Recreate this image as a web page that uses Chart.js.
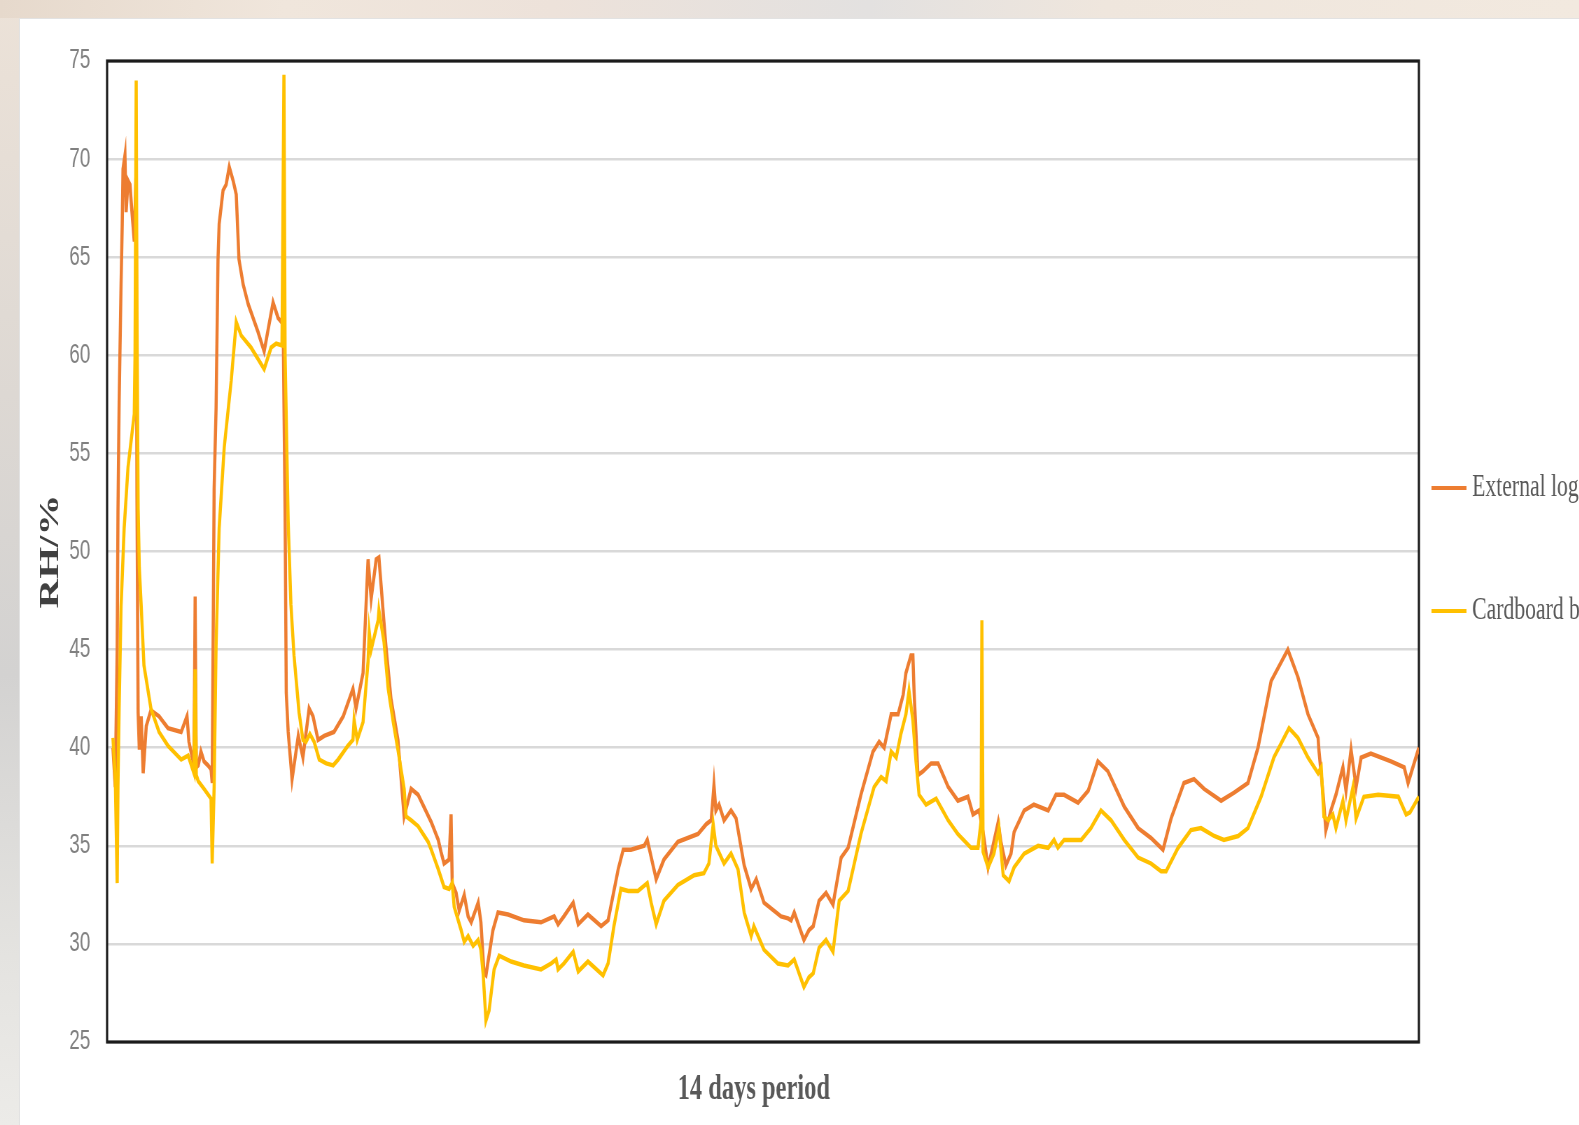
<!DOCTYPE html>
<html>
<head>
<meta charset="utf-8">
<script src="https://cdn.jsdelivr.net/npm/chart.js@4.4.1/dist/chart.umd.min.js"></script>
<style>
  html, body { margin: 0; padding: 0; width: 1579px; height: 1125px; overflow: hidden; }
  body {
    position: relative;
    background: linear-gradient(180deg, #ece2d8 0%, #ddd8d3 35%, #d3d2d1 60%, #e4e3e0 85%, #ecebe8 100%);
  }
  #topstrip {
    position: absolute; left: 0; top: 0; width: 1579px; height: 18px;
    background: linear-gradient(90deg, #e6d9cc 0%, #f0e6dc 18%, #ede2da 35%, #e3e1e0 55%, #efe6dd 70%, #f2e9df 100%);
  }
  #panel {
    position: absolute; left: 19px; top: 18px; right: 0; bottom: 0;
    background: #fff; border-left: 1px solid #e2e2e2; border-top: 1px solid #e2e2e2;
  }
  /* the source picture is squeezed sideways, so the whole canvas is too */
  #chart { position: absolute; left: 0; top: 0; transform: scaleX(0.7); transform-origin: 0 0; }
</style>
</head>
<body>
<div id="topstrip"></div>
<div id="panel"></div>
<canvas id="chart" width="2256" height="1125"></canvas>
<script>
// time in hours from the start of the run, RH in %
const extHours = [
  1.5, 2.1, 2.6, 2.8, 3.1, 3.6, 3.9, 4.1, 4.6, 4.9,
  5.4, 5.9, 6.4, 7.0, 7.5, 7.7, 8.0, 8.3, 8.8, 9.3,
  10.1, 11.3, 13.4, 15.7, 19.1, 20.6, 21.1, 22.4, 22.7, 23.0,
  23.5, 24.2, 25.0, 26.0, 26.8, 27.1, 27.6, 28.1, 28.6, 28.9,
  29.9, 30.7, 31.5, 32.5, 33.3, 34.0, 35.1, 36.4, 38.9, 40.5,
  42.8, 44.1, 45.4, 45.9, 46.2, 46.7, 47.7, 49.3, 50.5, 52.1,
  53.1, 54.4, 56.0, 58.5, 60.9, 63.4, 64.2, 66.0, 67.3, 68.1,
  69.4, 70.1, 71.4, 71.9, 73.2, 75.0, 76.6, 78.4, 80.2, 83.6,
  85.4, 86.1, 86.9, 88.2, 88.7, 89.0, 90.0, 90.8, 92.1, 93.1,
  93.9, 95.7, 96.4, 97.2, 97.7, 99.5, 100.8, 103.4, 107.5, 111.9,
  115.3, 116.3, 117.8, 120.2, 121.5, 124.0, 127.4, 129.2, 131.8, 133.1,
  135.1, 138.5, 139.3, 141.6, 143.6, 147.2, 152.4, 154.5, 155.8, 156.5,
  157.0, 157.8, 159.1, 160.9, 162.2, 164.3, 166.1, 167.4, 169.4, 173.8,
  175.6, 176.4, 177.2, 179.7, 181.0, 182.1, 183.6, 185.4, 187.2, 189.3,
  191.1, 194.4, 197.5, 199.1, 200.4, 202.2, 204.0, 205.3, 206.0, 207.3,
  207.8, 208.1, 209.1, 210.4, 212.5, 214.3, 216.9, 219.4, 222.0, 223.3,
  224.9, 225.9, 227.2, 229.8, 230.5, 231.8, 233.1, 233.9, 236.5, 239.0,
  242.7, 244.7, 246.8, 250.4, 253.0, 255.5, 258.1, 262.3, 265.9, 269.2,
  272.3, 274.4, 277.7, 280.3, 282.9, 287.3, 290.6, 294.2, 296.8, 300.2,
  304.5, 307.1, 309.7, 312.3, 312.5, 313.6, 314.3, 315.6, 316.9, 318.7,
  319.5, 320.8, 322.1, 323.4, 325.9, 331.1, 334.5, 335.5, 338.3
];
const extRH = [
  40.0, 38.0, 45.0, 52.0, 57.6, 63.6, 66.7, 69.5, 70.2, 67.3,
  68.9, 68.7, 67.3, 65.8, 69.5, 52.8, 41.8, 39.9, 41.6, 38.7,
  41.1, 41.9, 41.6, 41.0, 40.8, 41.6, 40.3, 39.1, 47.7, 39.0,
  39.1, 39.8, 39.3, 39.1, 38.9, 38.2, 53.2, 57.3, 64.9, 66.7,
  68.4, 68.7, 69.6, 68.9, 68.2, 64.9, 63.6, 62.6, 61.2, 60.2,
  62.7, 61.9, 61.6, 52.0, 42.8, 40.8, 38.4, 40.6, 39.5, 42.0,
  41.6, 40.4, 40.6, 40.8, 41.6, 43.0, 42.0, 43.8, 49.6, 47.6,
  49.6, 49.7, 46.4, 45.2, 42.5, 40.4, 36.5, 37.9, 37.6, 36.2,
  35.3, 34.7, 34.1, 34.3, 36.6, 33.1, 32.6, 31.7, 32.5, 31.4,
  31.1, 32.1, 31.1, 28.5, 28.4, 30.7, 31.6, 31.5, 31.2, 31.1,
  31.4, 31.0, 31.4, 32.1, 31.0, 31.5, 30.9, 31.2, 33.8, 34.8,
  34.8, 35.0, 35.3, 33.3, 34.3, 35.2, 35.6, 36.1, 36.3, 38.1,
  36.8, 37.1, 36.3, 36.8, 36.4, 34.0, 32.8, 33.3, 32.1, 31.4,
  31.3, 31.2, 31.6, 30.2, 30.7, 30.9, 32.2, 32.6, 32.0, 34.4,
  34.9, 37.6, 39.8, 40.3, 40.0, 41.7, 41.7, 42.7, 43.8, 44.7,
  44.7, 42.9, 38.6, 38.8, 39.2, 39.2, 38.0, 37.3, 37.5, 36.6,
  36.8, 35.7, 33.9, 36.2, 35.2, 34.0, 34.6, 35.7, 36.8, 37.1,
  36.8, 37.6, 37.6, 37.2, 37.8, 39.3, 38.8, 37.0, 35.9, 35.4,
  34.8, 36.4, 38.2, 38.4, 37.9, 37.3, 37.7, 38.2, 40.0, 43.4,
  45.0, 43.6, 41.7, 40.5, 39.9, 37.6, 35.8, 36.8, 37.6, 39.0,
  37.8, 39.9, 38.0, 39.5, 39.7, 39.3, 39.0, 38.2, 40.0
];

const boxHours = [
  1.5, 2.1, 2.6, 2.8, 3.1, 3.6, 4.4, 5.4, 6.4, 7.0,
  7.2, 7.5, 7.7, 8.0, 8.3, 8.8, 9.5, 11.3, 13.4, 15.7,
  19.1, 20.9, 22.4, 22.7, 23.0, 23.5, 25.0, 26.8, 27.1, 27.6,
  28.1, 28.9, 30.2, 32.0, 33.3, 34.6, 37.1, 40.5, 42.3, 43.6,
  45.1, 45.6, 45.9, 46.7, 47.4, 48.2, 49.5, 50.5, 51.3, 52.3,
  53.4, 54.7, 56.5, 58.3, 59.6, 62.1, 63.4, 63.7, 64.5, 66.0,
  67.3, 67.6, 68.1, 69.9, 70.1, 71.4, 72.5, 73.8, 75.0, 76.6,
  77.1, 78.4, 80.2, 82.8, 83.6, 85.4, 86.9, 88.2, 89.0, 89.5,
  91.3, 92.1, 93.1, 94.4, 95.7, 96.4, 97.0, 97.7, 98.5, 99.8,
  101.1, 104.2, 107.5, 111.9, 114.5, 115.8, 116.3, 117.8, 120.2, 121.5,
  124.0, 127.9, 129.2, 130.7, 132.5, 134.4, 136.9, 139.3, 140.3, 141.6,
  143.6, 147.2, 151.4, 153.9, 155.2, 156.3, 157.0, 159.1, 160.9, 162.7,
  164.3, 166.1, 166.8, 169.4, 173.0, 175.6, 177.2, 179.7, 181.0, 182.1,
  183.6, 185.4, 187.2, 188.8, 191.1, 194.4, 197.8, 199.6, 200.9, 202.2,
  203.5, 204.7, 206.0, 206.8, 207.8, 208.6, 209.4, 211.2, 213.8, 216.9,
  219.4, 222.8, 224.6, 225.4, 225.6, 225.9, 227.2, 228.7, 230.0, 231.1,
  232.6, 233.9, 236.5, 240.1, 242.7, 244.2, 245.2, 246.8, 251.2, 253.7,
  256.3, 258.9, 262.3, 265.9, 269.2, 271.8, 273.1, 276.2, 279.5, 282.1,
  285.5, 288.0, 291.7, 294.2, 297.6, 300.9, 304.8, 307.1, 309.7, 312.3,
  313.1, 313.8, 314.9, 316.1, 316.9, 318.7, 319.5, 321.3, 322.1, 324.1,
  327.8, 333.0, 335.0, 336.0, 338.3
];
const boxRH = [
  40.5, 38.5, 33.1, 38.0, 42.0, 47.2, 51.2, 54.3, 56.0, 57.0,
  60.0, 74.0, 62.0, 52.2, 49.2, 47.2, 44.2, 42.0, 40.8, 40.1,
  39.4, 39.6, 38.7, 44.0, 38.6, 38.3, 37.9, 37.4, 34.1, 38.0,
  45.2, 51.2, 55.3, 58.7, 61.7, 61.0, 60.4, 59.3, 60.4, 60.6,
  60.5, 74.3, 60.0, 51.5, 47.3, 44.7, 41.8, 40.4, 40.3, 40.7,
  40.3, 39.4, 39.2, 39.1, 39.4, 40.1, 40.4, 41.4, 40.4, 41.3,
  44.4, 45.9, 45.0, 46.5, 47.0, 45.4, 43.0, 41.3, 39.9, 37.9,
  36.5, 36.3, 36.0, 35.2, 34.8, 33.8, 32.9, 32.8, 33.1, 31.9,
  30.7, 30.1, 30.4, 29.9, 30.2, 29.7, 28.4, 26.1, 26.6, 28.7,
  29.4, 29.1, 28.9, 28.7, 29.0, 29.2, 28.7, 29.0, 29.6, 28.6,
  29.1, 28.4, 29.0, 30.9, 32.8, 32.7, 32.7, 33.1, 32.1, 31.0,
  32.2, 33.0, 33.5, 33.6, 34.1, 36.1, 35.0, 34.1, 34.6, 33.8,
  31.6, 30.4, 30.9, 29.7, 29.0, 28.9, 29.2, 27.8, 28.3, 28.5,
  29.8, 30.2, 29.6, 32.2, 32.7, 35.6, 38.0, 38.5, 38.3, 39.8,
  39.5, 40.7, 41.7, 42.9, 41.4, 39.3, 37.6, 37.1, 37.4, 36.3,
  35.6, 34.9, 34.9, 36.3, 46.5, 34.7, 33.9, 34.6, 35.9, 33.5,
  33.2, 33.9, 34.6, 35.0, 34.9, 35.3, 34.9, 35.3, 35.3, 35.9,
  36.8, 36.3, 35.3, 34.4, 34.1, 33.7, 33.7, 34.9, 35.8, 35.9,
  35.5, 35.3, 35.5, 35.9, 37.5, 39.5, 41.0, 40.5, 39.5, 38.7,
  39.0, 36.5, 36.3, 36.6, 35.9, 37.3, 36.3, 38.0, 36.4, 37.5,
  37.6, 37.5, 36.6, 36.7, 37.5
];

const seriesNames = ['External logger', 'Cardboard box'];
const seriesColors = ['#ED7D31', '#FFC000'];
const rhTicks = [25, 30, 35, 40, 45, 50, 55, 60, 65, 70, 75];
const lastHour = 338.3;

function toPoints(xs, ys) {
  return xs.map((x, i) => ({ x: x, y: ys[i] }));
}

// plot frame + a legend hanging off the right edge of the picture
const frameAndLegend = {
  id: 'frameAndLegend',
  beforeDatasetsDraw(chart) {
    const { ctx, chartArea: a } = chart;
    ctx.save();
    ctx.strokeStyle = '#1b1b1b';
    ctx.lineWidth = 3.2;
    ctx.strokeRect(a.left, a.top, a.right - a.left, a.bottom - a.top);
    ctx.restore();
  },
  afterDraw(chart) {
    const { ctx, chartArea: a } = chart;
    const rows = [427, 550];
    ctx.save();
    chart.data.datasets.forEach((ds, i) => {
      const y = a.top + rows[i];
      ctx.strokeStyle = ds.borderColor;
      ctx.lineWidth = 4;
      ctx.beginPath();
      ctx.moveTo(a.right + 18, y);
      ctx.lineTo(a.right + 68, y);
      ctx.stroke();
      ctx.fillStyle = '#595959';
      ctx.font = '31px "Liberation Serif", "DejaVu Serif", serif';
      ctx.textBaseline = 'middle';
      ctx.textAlign = 'left';
      ctx.fillText(ds.label, a.right + 76, y);
    });
    ctx.restore();
  }
};

const $canvas = document.getElementById('chart');

const rhChart = new Chart($canvas, {
  type: 'line',
  data: {
    datasets: [
      {
        label: seriesNames[0],
        data: toPoints(extHours, extRH),
        borderColor: seriesColors[0],
        borderWidth: 4.5,
        pointRadius: 0,
        tension: 0,
        order: 1,
      },
      {
        label: seriesNames[1],
        data: toPoints(boxHours, boxRH),
        borderColor: seriesColors[1],
        borderWidth: 4.5,
        pointRadius: 0,
        tension: 0,
        order: 0,
      },
    ],
  },
  options: {
    responsive: false,
    animation: false,
    events: [],
    layout: {
      padding: { left: 0, right: 229, top: 61, bottom: 0 },
    },
    plugins: {
      legend: { display: false },
      tooltip: { enabled: false },
    },
    scales: {
      x: {
        type: 'linear',
        min: 0,
        max: lastHour,
        ticks: { display: false },
        grid: { display: false },
        border: { display: false },
        title: {
          display: true,
          text: '14 days period   ',
          color: '#595959',
          font: { family: '"Liberation Serif", "DejaVu Serif", serif', size: 35, weight: 'bold' },
          padding: { top: 0, bottom: 14 },
        },
        afterFit(scale) {
          scale.height = 83;
        },
      },
      y: {
        min: 25,
        max: 75,
        afterBuildTicks(scale) {
          scale.ticks = rhTicks.map((v) => ({ value: v }));
        },
        ticks: {
          padding: 24,
          color: '#808080',
          font: { family: '"Liberation Sans", Arial, sans-serif', size: 27 },
        },
        grid: {
          color: '#d9d9d9',
          lineWidth: 2.5,
          drawTicks: false,
        },
        border: { display: false },
        title: {
          display: true,
          text: 'RH/%',
          color: '#404040',
          font: { family: '"Liberation Serif", "DejaVu Serif", serif', size: 41, weight: 'bold' },
          padding: { top: 48, bottom: 0 },
        },
        afterFit(scale) {
          scale.width = 153;
        },
      },
    },
  },
  plugins: [frameAndLegend],
});
</script>
</body>
</html>
